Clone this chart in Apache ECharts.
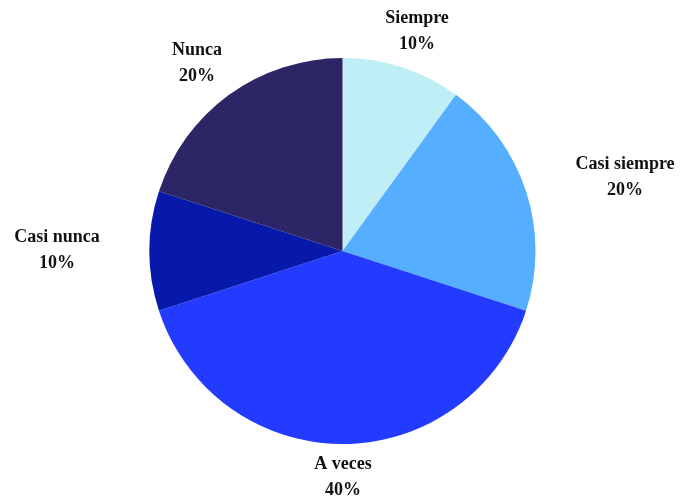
<!DOCTYPE html>
<html>
<head>
<meta charset="utf-8">
<script src="https://cdn.jsdelivr.net/npm/echarts@6/dist/echarts.min.js"></script>
<style>
html, body { margin: 0; padding: 0; background: #fff; }
#chart { width: 680px; height: 499px; }
</style>
</head>
<body>
<div id="chart"></div>
<script>
// categorías y valores (%)
var categories = ['Siempre', 'Casi siempre', 'A veces', 'Casi nunca', 'Nunca'];
var values = [10, 20, 40, 10, 20];
var colors = ['#BFEEF6', '#55AEFF', '#233BFF', '#0619AA', '#2C2566'];

// posición de las etiquetas (centro del bloque de texto)
var labelPos = [[417, 31], [625, 177], [343, 477], [57, 250], [197, 63]];

var dataset = [];
for (var i = 0; i < categories.length; i++) {
	dataset.push({ name: categories[i], value: values[i] });
}

var myChart = echarts.init(document.getElementById('chart'));

var option = {
	backgroundColor: '#fff',
	color: colors,
	animation: false,
	series: [{
		type: 'pie',
		center: [342.5, 251],
		radius: 193,
		startAngle: 90,
		clockwise: true,
		label: {
			position: 'outside',
			formatter: '{b}\n{d}%',
			fontFamily: '"Liberation Serif", "Times New Roman", serif',
			fontWeight: 'bold',
			fontSize: 18,
			lineHeight: 26,
			color: '#111',
			align: 'center',
			overflow: 'none'
		},
		labelLine: { show: false },
		labelLayout: function(params) {
			var p = labelPos[params.dataIndex];
			return { x: p[0], y: p[1], align: 'center', verticalAlign: 'middle', hideOverlap: false };
		},
		itemStyle: { borderWidth: 0 },
		emphasis: { disabled: true },
		data: dataset
	}]
};

myChart.setOption(option);
</script>
</body>
</html>
